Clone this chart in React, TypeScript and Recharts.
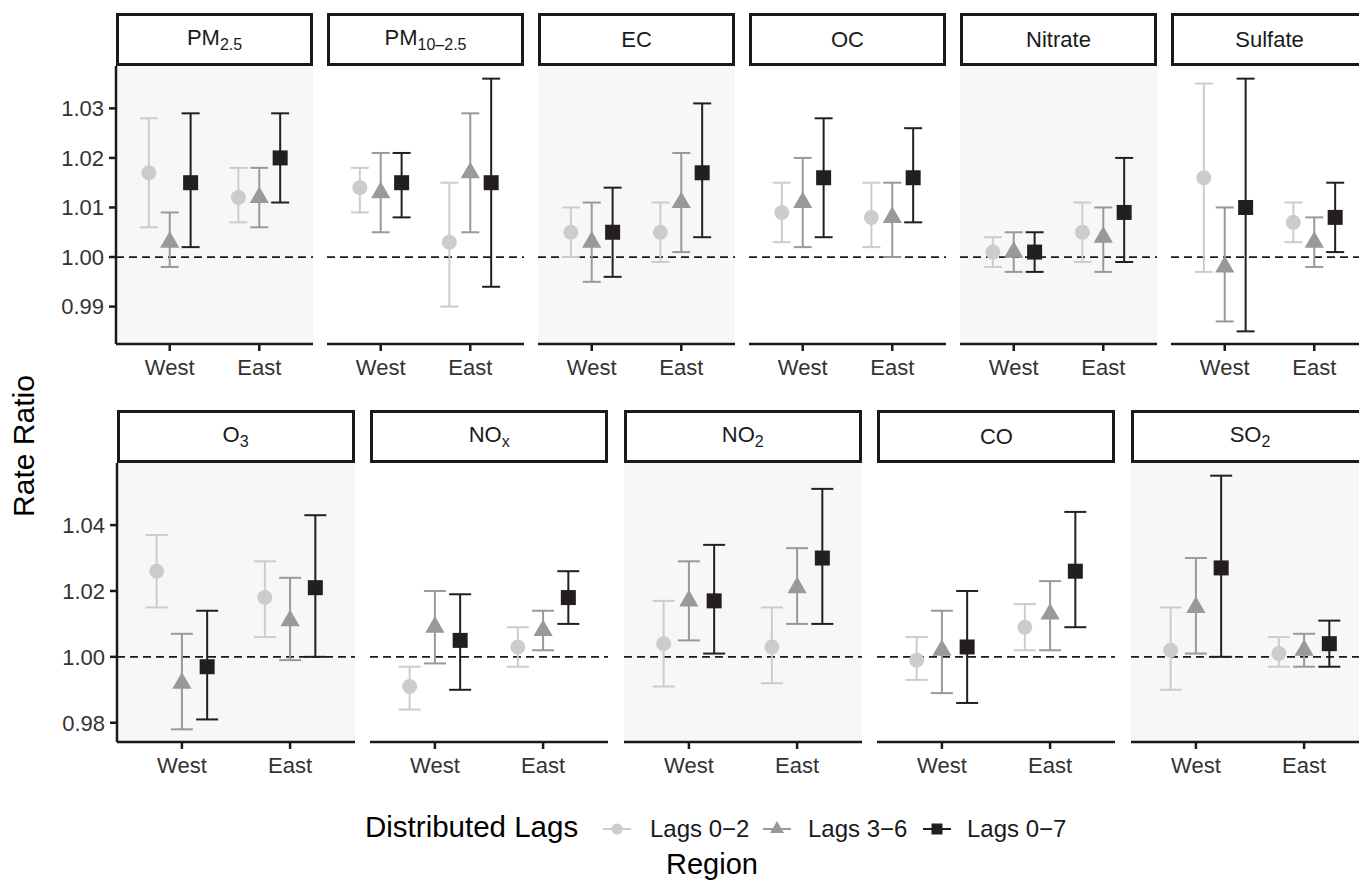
import React from "react";
import { ScatterChart, Scatter, XAxis, YAxis, ErrorBar, ReferenceLine, CartesianGrid } from "recharts";

const regions = ["West", "East"];
const lagLabels = ["Lags 0\u22122", "Lags 3\u22126", "Lags 0\u22127"];
const lagColors = ["#cccccc", "#999999", "#231f20"];

// [estimate, lower, upper] in order: West (0-2, 3-6, 0-7), East (0-2, 3-6, 0-7)
const pm25 = [[1.017, 1.006, 1.028], [1.003, 0.998, 1.009], [1.015, 1.002, 1.029], [1.012, 1.007, 1.018], [1.012, 1.006, 1.018], [1.02, 1.011, 1.029]];
const pm10 = [[1.014, 1.009, 1.018], [1.013, 1.005, 1.021], [1.015, 1.008, 1.021], [1.003, 0.99, 1.015], [1.017, 1.005, 1.029], [1.015, 0.994, 1.036]];
const ec = [[1.005, 1.0, 1.01], [1.003, 0.995, 1.011], [1.005, 0.996, 1.014], [1.005, 0.999, 1.011], [1.011, 1.001, 1.021], [1.017, 1.004, 1.031]];
const oc = [[1.009, 1.003, 1.015], [1.011, 1.002, 1.02], [1.016, 1.004, 1.028], [1.008, 1.002, 1.015], [1.008, 1.0, 1.015], [1.016, 1.007, 1.026]];
const nitrate = [[1.001, 0.998, 1.004], [1.001, 0.997, 1.005], [1.001, 0.997, 1.005], [1.005, 0.999, 1.011], [1.004, 0.997, 1.01], [1.009, 0.999, 1.02]];
const sulfate = [[1.016, 0.997, 1.035], [0.998, 0.987, 1.01], [1.01, 0.985, 1.036], [1.007, 1.003, 1.011], [1.003, 0.998, 1.008], [1.008, 1.001, 1.015]];
const o3 = [[1.026, 1.015, 1.037], [0.992, 0.978, 1.007], [0.997, 0.981, 1.014], [1.018, 1.006, 1.029], [1.011, 0.999, 1.024], [1.021, 1.0, 1.043]];
const nox = [[0.991, 0.984, 0.997], [1.009, 0.998, 1.02], [1.005, 0.99, 1.019], [1.003, 0.997, 1.009], [1.008, 1.002, 1.014], [1.018, 1.01, 1.026]];
const no2 = [[1.004, 0.991, 1.017], [1.017, 1.005, 1.029], [1.017, 1.001, 1.034], [1.003, 0.992, 1.015], [1.021, 1.01, 1.033], [1.03, 1.01, 1.051]];
const co = [[0.999, 0.993, 1.006], [1.002, 0.989, 1.014], [1.003, 0.986, 1.02], [1.009, 1.002, 1.016], [1.013, 1.002, 1.023], [1.026, 1.009, 1.044]];
const so2 = [[1.002, 0.99, 1.015], [1.015, 1.001, 1.03], [1.027, 1.0, 1.055], [1.001, 0.997, 1.006], [1.002, 0.997, 1.007], [1.004, 0.997, 1.011]];

const topNames = [["PM", "2.5"], ["PM", "10\u20132.5"], ["EC", ""], ["OC", ""], ["Nitrate", ""], ["Sulfate", ""]];
const topValues = [pm25, pm10, ec, oc, nitrate, sulfate];
const topTicks = [0.99, 1.0, 1.01, 1.02, 1.03];

const bottomNames = [["O", "3"], ["NO", "x"], ["NO", "2"], ["CO", ""], ["SO", "2"]];
const bottomValues = [o3, nox, no2, co, so2];
const bottomTicks = [0.98, 1.0, 1.02, 1.04];

const FONT = "'Liberation Sans', Arial, Helvetica, sans-serif";
const DODGE = 0.7 / 3;
const AXIS = "#1a1a1a";

// ggplot-style 5% expansion of the row's CI range
function rowDomain(rows: number[][][]): [number, number] {
  let lo = Infinity;
  let hi = -Infinity;
  rows.forEach((p) => p.forEach((r) => { lo = Math.min(lo, r[1]); hi = Math.max(hi, r[2]); }));
  const pad = (hi - lo) * 0.05;
  return [lo - pad, hi + pad];
}

function shapeFor(k: number, size: number) {
  return (props: any) => {
    const { cx, cy } = props;
    const c = lagColors[k];
    if (k === 0) return <circle cx={cx} cy={cy} r={size / 2} fill={c} />;
    if (k === 1) {
      const r = size * 0.74;
      const hw = r * 0.866;
      return <polygon points={`${cx},${cy - r} ${cx + hw},${cy + r / 2} ${cx - hw},${cy + r / 2}`} fill={c} />;
    }
    return <rect x={cx - size / 2} y={cy - size / 2} width={size} height={size} fill={c} />;
  };
}

type PanelProps = {
  name: string[];
  values: number[][];
  left: number;
  top: number;
  width: number;
  height: number;
  shaded: boolean;
  first: boolean;
  domain: [number, number];
  ticks: number[];
  cap: number;
};

function Panel({ name, values, left, top, width, height, shaded, first, domain, ticks, cap }: PanelProps) {
  const yw = first ? 100 : 0;
  const series = lagLabels.map((lag, k) =>
    regions.map((r, i) => {
      const [est, lo, hi] = values[i * 3 + k];
      return { x: i + 1 + (k - 1) * DODGE, y: est, err: [est - lo, hi - est], region: r, lag };
    })
  );
  return (
    <>
      <div
        style={{
          position: "absolute", left, top: top - 53, width, height: 53, boxSizing: "border-box",
          border: "3px solid #1a1a1a", background: "#fff", display: "flex", alignItems: "center",
          justifyContent: "center", fontFamily: FONT, fontSize: 22, color: "#1a1a1a",
        }}
      >
        <span>
          {name[0]}
          {name[1] && <sub style={{ fontSize: 16, verticalAlign: "-5px" }}>{name[1]}</sub>}
        </span>
      </div>
      <div style={{ position: "absolute", left: left - yw, top }}>
        <ScatterChart width={width + yw} height={height + 50} margin={{ top: 0, right: 0, bottom: 0, left: 0 }}>
          <CartesianGrid horizontal={false} vertical={false} fill={shaded ? "#f7f7f7" : "#ffffff"} stroke="none" />
          <XAxis
            type="number" dataKey="x" domain={[0.4, 2.6]} ticks={[1, 2]} allowDataOverflow height={50}
            tickFormatter={(v: number) => regions[v - 1]} tickSize={7} tickMargin={8}
            axisLine={{ stroke: AXIS, strokeWidth: 2.5 }} tickLine={{ stroke: AXIS, strokeWidth: 2.5 }}
            tick={{ fontSize: 22, fill: "#333333", fontFamily: FONT }}
          />
          <YAxis
            type="number" dataKey="y" domain={domain} ticks={ticks} allowDataOverflow hide={!first} width={yw}
            tickFormatter={(v: number) => v.toFixed(2)} tickSize={7} tickMargin={5}
            axisLine={{ stroke: AXIS, strokeWidth: 2.5 }} tickLine={{ stroke: AXIS, strokeWidth: 2.5 }}
            tick={{ fontSize: 22, fill: "#333333", fontFamily: FONT }}
          />
          <ReferenceLine y={1} stroke="#1a1a1a" strokeWidth={1.8} strokeDasharray="8 5" />
          {series.map((data, k) => (
            <Scatter key={k} data={data} isAnimationActive={false} shape={shapeFor(k, 15)} fill={lagColors[k]}>
              <ErrorBar dataKey="err" direction="y" width={cap} stroke={lagColors[k]} strokeWidth={2} isAnimationActive={false} />
            </Scatter>
          ))}
        </ScatterChart>
      </div>
    </>
  );
}

function LegendKey({ k, x, y }: { k: number; x: number; y: number }) {
  const c = lagColors[k];
  return (
    <g>
      <line x1={x - 14} x2={x + 14} y1={y} y2={y} stroke={c} strokeWidth={2} />
      {k === 0 && <circle cx={x} cy={y} r={5.5} fill={c} />}
      {k === 1 && <polygon points={`${x},${y - 8} ${x + 7},${y + 4} ${x - 7},${y + 4}`} fill={c} />}
      {k === 2 && <rect x={x - 5.5} y={y - 5.5} width={11} height={11} fill={c} />}
    </g>
  );
}

export default function App() {
  const topDomain = rowDomain(topValues);
  const bottomDomain = rowDomain(bottomValues);
  const legendKeysX = [617, 777, 937];
  const legendTextX = [650, 808, 967];
  return (
    <div style={{ position: "absolute", left: 0, top: 0, width: 1359, height: 880, overflow: "hidden", background: "#fff" }}>
      {topNames.map((n, i) => (
        <Panel
          key={`t${i}`} name={n} values={topValues[i]} left={116 + 211 * i} top={66} width={197} height={278}
          shaded={i % 2 === 0} first={i === 0} domain={topDomain} ticks={topTicks} cap={9}
        />
      ))}
      {bottomNames.map((n, i) => (
        <Panel
          key={`b${i}`} name={n} values={bottomValues[i]} left={116.6 + 253.6 * i} top={463} width={238} height={279}
          shaded={i % 2 === 0} first={i === 0} domain={bottomDomain} ticks={bottomTicks} cap={11}
        />
      ))}
      <svg width={1359} height={880} style={{ position: "absolute", left: 0, top: 0, pointerEvents: "none" }}>
        <text x={0} y={0} transform="translate(34,446) rotate(-90)" textAnchor="middle" fontFamily={FONT} fontSize={30} fill="#000">
          Rate Ratio
        </text>
        <text x={365} y={837} fontFamily={FONT} fontSize={29.5} fill="#000">Distributed Lags</text>
        {lagLabels.map((l, k) => (
          <g key={l}>
            <LegendKey k={k} x={legendKeysX[k]} y={829} />
            <text x={legendTextX[k]} y={837} fontFamily={FONT} fontSize={24} fill="#1a1a1a">{l}</text>
          </g>
        ))}
        <text x={712} y={874} textAnchor="middle" fontFamily={FONT} fontSize={29} fill="#000">Region</text>
      </svg>
    </div>
  );
}
